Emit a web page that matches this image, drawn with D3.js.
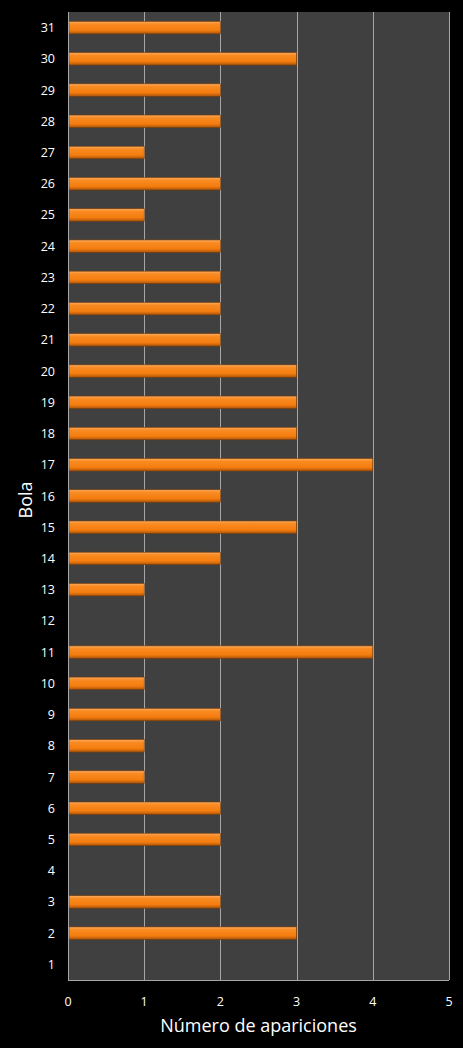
<!DOCTYPE html>
<html>
<head>
<meta charset="utf-8">
<script src="https://cdn.jsdelivr.net/npm/d3@7"></script>
<style>
  html, body { margin: 0; padding: 0; background: #000; }
  svg { display: block; }
  text { font-family: "Open Sans", "DejaVu Sans", sans-serif; fill: #fff; }
</style>
</head>
<body>
<div id="chart"></div>
<script>
// data
var bolas = d3.range(1, 32).map(String);
var apariciones = [0, 3, 2, 0, 2, 2, 1, 1, 2, 1, 4, 0, 1, 2, 3, 2, 4, 3, 3, 3, 2, 2, 2, 2, 1, 2, 1, 2, 2, 3, 2];
var xTicks = [0, 1, 2, 3, 4, 5];

var svgWidth = 463;
var svgHeight = 1048;
var margin = { top: 12, right: 14, bottom: 68, left: 68 };
var width = svgWidth - margin.left - margin.right;
var height = svgHeight - margin.top - margin.bottom;

var svg = d3.select('#chart')
    .append('svg')
    .attr('width', svgWidth)
    .attr('height', svgHeight);

var defs = svg.append('defs');
var grad = defs.append('linearGradient')
    .attr('id', 'barGrad')
    .attr('x1', 0).attr('y1', 0).attr('x2', 0).attr('y2', 1);
grad.append('stop').attr('offset', '0%').attr('stop-color', '#fbac62');
grad.append('stop').attr('offset', '22%').attr('stop-color', '#f98b22');
grad.append('stop').attr('offset', '72%').attr('stop-color', '#f47c0e');
grad.append('stop').attr('offset', '100%').attr('stop-color', '#a9540c');

var chartGroup = svg.append('g')
    .attr('transform', `translate(${margin.left}, ${margin.top})`);

// scales
var x = d3.scaleLinear().domain([0, 5]).range([0, width]);
var y = d3.scaleBand()
    .domain(bolas.slice().reverse())
    .range([0, height])
    .paddingInner(0.6)
    .paddingOuter(0.3);

// plot background
chartGroup.append('rect')
    .attr('width', width)
    .attr('height', height)
    .attr('fill', '#404040');

// gridlines
chartGroup.append('g')
    .selectAll('line')
    .data(xTicks.slice(1))
    .enter()
    .append('line')
    .attr('x1', d => Math.round(x(d)) + 0.5)
    .attr('x2', d => Math.round(x(d)) + 0.5)
    .attr('y1', 0)
    .attr('y2', height)
    .attr('stroke', '#a6a6a6')
    .attr('stroke-width', 1);

// bars
chartGroup.append('g')
    .selectAll('rect')
    .data(apariciones)
    .enter()
    .append('rect')
    .attr('x', 1)
    .attr('y', (d, i) => y(bolas[i]))
    .attr('width', d => Math.max(0, x(d) - 1))
    .attr('height', y.bandwidth())
    .attr('fill', 'url(#barGrad)')
    .attr('stroke', '#7a3d08')
    .attr('stroke-width', 0.6)
    .style('display', d => d > 0 ? null : 'none');

// axis lines
chartGroup.append('line')
    .attr('x1', 0.5).attr('x2', 0.5)
    .attr('y1', 0).attr('y2', height)
    .attr('stroke', '#a6a6a6');
chartGroup.append('line')
    .attr('x1', 0).attr('x2', width)
    .attr('y1', height + 0.5).attr('y2', height + 0.5)
    .attr('stroke', '#a6a6a6');

// y tick labels
chartGroup.append('g')
    .selectAll('text')
    .data(bolas)
    .enter()
    .append('text')
    .attr('x', -13)
    .attr('y', d => y(d) + y.bandwidth() / 2)
    .attr('text-anchor', 'end')
    .attr('dominant-baseline', 'central')
    .style('font-size', '12.5px')
    .text(d => d);

// x tick labels
chartGroup.append('g')
    .selectAll('text')
    .data(xTicks)
    .enter()
    .append('text')
    .attr('x', d => x(d))
    .attr('y', height + 21)
    .attr('text-anchor', 'middle')
    .attr('dominant-baseline', 'central')
    .style('font-size', '12.5px')
    .text(d => d);

// axis titles
svg.append('text')
    .attr('x', margin.left + width / 2)
    .attr('y', 1025)
    .attr('text-anchor', 'middle')
    .attr('dominant-baseline', 'central')
    .style('font-size', '18px')
    .text('Número de apariciones');

svg.append('text')
    .attr('transform', 'translate(25, 500) rotate(-90)')
    .attr('text-anchor', 'middle')
    .attr('dominant-baseline', 'central')
    .style('font-size', '18px')
    .text('Bola');
</script>
</body>
</html>
